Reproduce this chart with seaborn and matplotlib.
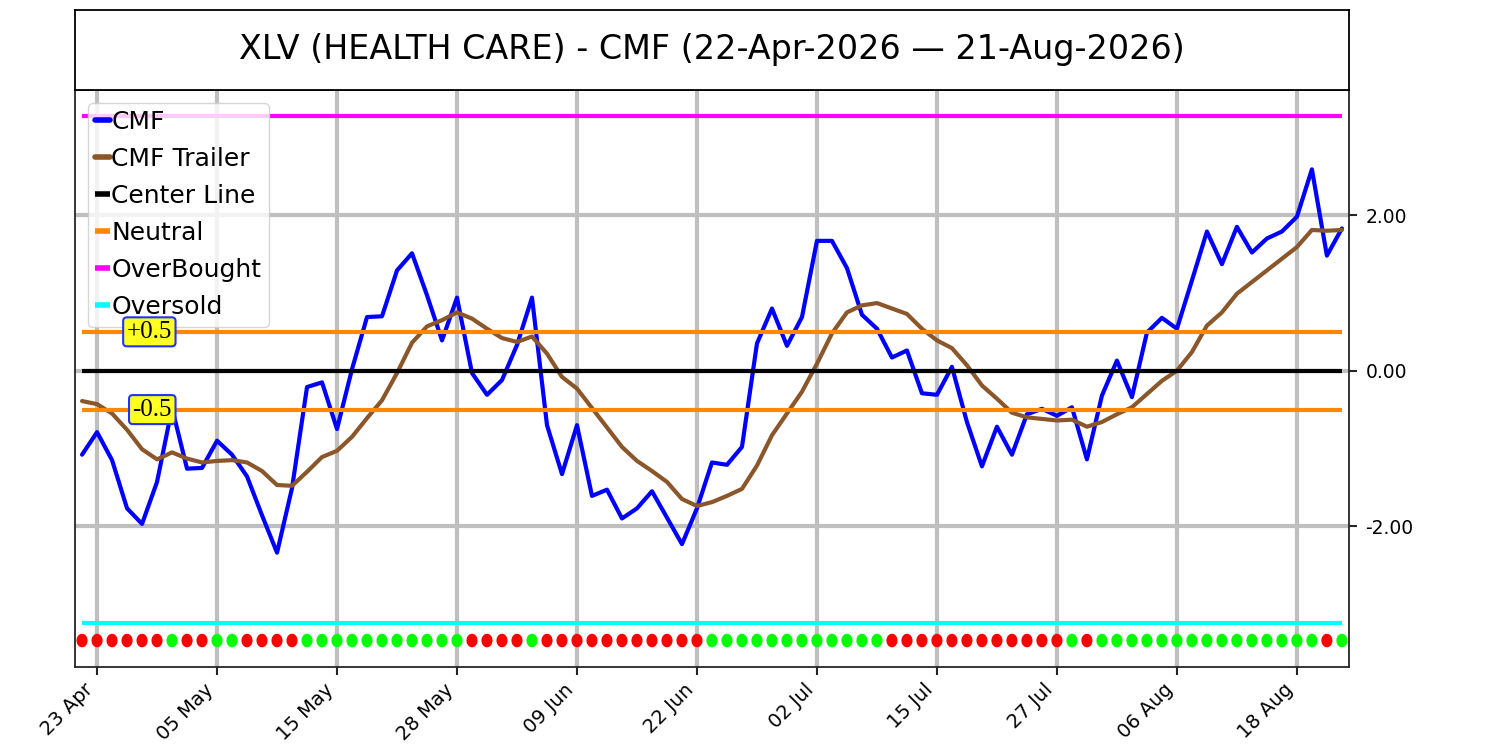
import numpy as np
import pandas as pd
import seaborn as sns
import matplotlib
matplotlib.use('Agg')
import matplotlib.pyplot as plt
from matplotlib.ticker import FormatStrFormatter

TITLE = 'XLV (HEALTH CARE) - CMF (22-Apr-2026 \u2014 21-Aug-2026)'

# trading days 22-Apr-2026 .. 21-Aug-2026 (US market holidays left out)
HOLIDAYS = ['2026-05-25', '2026-06-19', '2026-07-03']
dates = pd.bdate_range('2026-04-22', '2026-08-21')
dates = dates[~dates.isin(pd.to_datetime(HOLIDAYS))]

CMF = [-1.08, -0.79, -1.15, -1.77, -1.97, -1.43, -0.48, -1.26, -1.25, -0.90,
       -1.08, -1.36, -1.86, -2.34, -1.51, -0.21, -0.15, -0.75, 0.02, 0.69,
       0.70, 1.29, 1.51, 0.97, 0.39, 0.94, -0.03, -0.31, -0.12, 0.33,
       0.94, -0.70, -1.33, -0.70, -1.61, -1.53, -1.90, -1.77, -1.55, -1.89,
       -2.23, -1.77, -1.18, -1.21, -0.98, 0.35, 0.80, 0.32, 0.69, 1.67,
       1.67, 1.32, 0.72, 0.54, 0.17, 0.26, -0.29, -0.31, 0.05, -0.66,
       -1.23, -0.72, -1.08, -0.56, -0.49, -0.58, -0.47, -1.14, -0.32, 0.13,
       -0.34, 0.49, 0.68, 0.54, 1.16, 1.79, 1.37, 1.85, 1.52, 1.70,
       1.79, 1.98, 2.59, 1.48, 1.83]

TRAILER = [-0.39, -0.43, -0.55, -0.76, -1.01, -1.14, -1.05, -1.13, -1.18, -1.16,
           -1.15, -1.18, -1.29, -1.47, -1.48, -1.30, -1.11, -1.03, -0.85, -0.61,
           -0.38, -0.03, 0.36, 0.57, 0.65, 0.75, 0.67, 0.54, 0.42, 0.37,
           0.44, 0.22, -0.08, -0.23, -0.48, -0.73, -0.98, -1.16, -1.29, -1.43,
           -1.65, -1.74, -1.69, -1.61, -1.52, -1.22, -0.83, -0.55, -0.27, 0.09,
           0.48, 0.75, 0.84, 0.87, 0.80, 0.73, 0.54, 0.39, 0.29, 0.07,
           -0.19, -0.36, -0.54, -0.60, -0.62, -0.64, -0.63, -0.72, -0.66, -0.56,
           -0.47, -0.30, -0.13, 0.00, 0.24, 0.58, 0.75, 0.99, 1.14, 1.29,
           1.44, 1.59, 1.81, 1.80, 1.81]

# dot row at the bottom: g = trailer rising, r = trailer falling
SIGNAL = list('rrrrrrgrrggrrrrgggggggggggrrrrgrrrrrrrrrrr'
              'ggggggggggggrrrrrrrrrrrrgrgggggggggggggggrg')
assert len(SIGNAL) == len(CMF) == len(TRAILER) == len(dates)

CENTER = 0.0
NEUTRAL = [0.5, -0.5]
OVERBOUGHT = 3.27
OVERSOLD = -3.24
DOT_LEVEL = -3.47

df = pd.DataFrame({'idx': np.arange(len(CMF)), 'cmf': CMF, 'trailer': TRAILER,
                   'signal': SIGNAL, 'dot': DOT_LEVEL})

sns.set_theme(style='white')
plt.rcParams['font.family'] = ['DejaVu Sans']
plt.rcParams['text.color'] = 'black'
plt.rcParams['xtick.color'] = 'black'
plt.rcParams['ytick.color'] = 'black'

fig = plt.figure(figsize=(15, 7.5), dpi=100)
ax = fig.add_axes([0.05, 0.1107, 0.8493, 0.7693])
tax = fig.add_axes([0.05, 0.88, 0.8493, 0.1067])

x0, x1 = df['idx'].iloc[0], df['idx'].iloc[-1]

sns.lineplot(data=df, x='idx', y='cmf', color='#0000ff', lw=3, label='CMF', ax=ax)
sns.lineplot(data=df, x='idx', y='trailer', color='#8b572a', lw=3, label='CMF Trailer', ax=ax)
ax.hlines(CENTER, x0, x1, color='black', lw=3, label='Center Line')
ax.hlines(NEUTRAL, x0, x1, color='#ff8800', lw=3, label='Neutral')
ax.hlines(OVERBOUGHT, x0, x1, color='#ff00ff', lw=3, label='OverBought')
ax.hlines(OVERSOLD, x0, x1, color='#00ffff', lw=3, label='Oversold')

# slightly tall dots
th = np.linspace(0, 2 * np.pi, 40)
ell = np.column_stack([0.82 * np.cos(th), np.sin(th)])
sns.scatterplot(data=df, x='idx', y='dot', hue='signal',
                palette={'r': '#ff0000', 'g': '#00ff00'}, marker=ell, s=95,
                linewidth=0, legend=False, ax=ax, zorder=3)

for lvl, txt in [(NEUTRAL[0], '+0.5'), (NEUTRAL[1], '-0.5')]:
    ax.text(6, lvl, txt, ha='right', va='center', fontsize=18,
            family=['Liberation Serif'], zorder=12,
            bbox=dict(boxstyle='round,pad=0.14,rounding_size=0.15',
                      fc='#ffff22', ec='#2233ff', lw=1.5))

ax.set_xlim(-0.47, 84.47)
ax.set_ylim(-3.81, 3.61)

tick_pos = df['idx'].iloc[1::8]
ax.set_xticks(tick_pos)
ax.set_xticklabels(dates[1::8].strftime('%d %b'), rotation=45, ha='right', fontsize=14)
ax.set_yticks([-2, 0, 2])
ax.yaxis.set_major_formatter(FormatStrFormatter('%.2f'))
ax.tick_params(axis='y', left=False, right=True, labelleft=False, labelright=True,
               length=6, width=1.5, labelsize=13.5, pad=6, color='.15')
ax.tick_params(axis='x', bottom=True, length=6, width=1.5, color='.15')
ax.set_xlabel('')
ax.set_ylabel('')

ax.set_axisbelow(True)
ax.grid(True, color='#bfbfbf', lw=3)
for sp in ax.spines.values():
    sp.set_color('.15')
    sp.set_linewidth(1.3)

leg = ax.legend(loc='upper left', fontsize=18, handlelength=0.6, handletextpad=0.05,
                labelspacing=0.52, borderaxespad=0.5, borderpad=0.3,
                framealpha=0.8, edgecolor='0.8')
for h in leg.get_lines():
    h.set_linewidth(4)
leg.set_zorder(10)

tax.set_xticks([])
tax.set_yticks([])
for sp in tax.spines.values():
    sp.set_color('black')
    sp.set_linewidth(1.3)
tax.text(0.5, 0.5, TITLE, ha='center', va='center', fontsize=24, transform=tax.transAxes)

fig.savefig('out.png', dpi=100)
